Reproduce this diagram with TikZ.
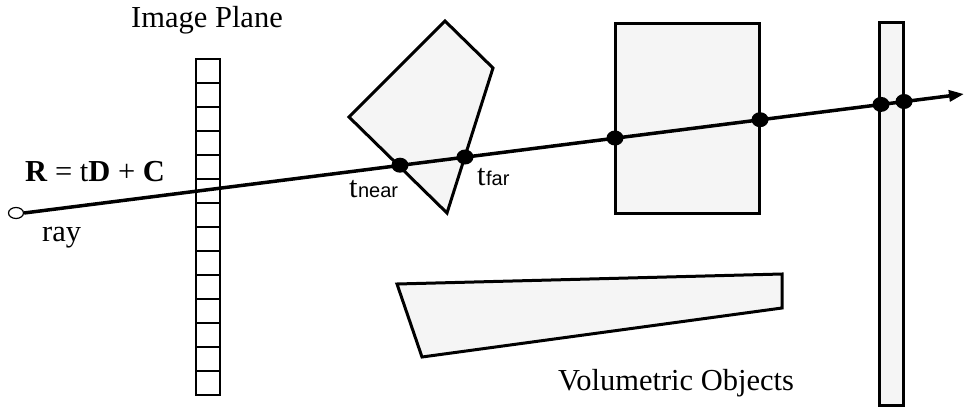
\documentclass[tikz,border=0pt]{standalone}
\usepackage{fontspec}
\setmainfont{Liberation Serif}
\newfontfamily\subsans{Liberation Sans}
\usetikzlibrary{arrows.meta,shapes.geometric}
\definecolor{objfill}{RGB}{245,245,245}
\begin{document}
\begin{tikzpicture}[x=1pt,y=-1pt,
  obj/.style={draw=black,fill=objfill,line width=3pt,line join=miter},
  planecell/.style={draw=black,line width=1.7pt},
  hit/.style={ellipse,fill=black,inner sep=0pt,minimum width=17pt,minimum height=15pt},
  lbl/.style={font=\fontsize{30.5}{34}\selectfont,inner sep=0pt,anchor=base west},
  sub/.style={font=\subsans\fontsize{20}{24}\selectfont,inner sep=0pt,anchor=base west}]
\useasboundingbox (0,0) rectangle (964,410);
% image plane
\draw[planecell] (196,59) rectangle (220,395);
\foreach \k in {1,...,13} { \draw[planecell] (195,{59+24*\k}) -- (220,{59+24*\k}); }
% objects
\draw[obj] (445,21) -- (493,68) -- (447,213) -- (349,117) -- cycle;
\draw[obj] (615,23) rectangle (759,213);
\draw[obj] (879,22) rectangle (903,405);
\draw[obj] (397,284) -- (782,274) -- (782,308) -- (422,357) -- cycle;
% ray
\node[ellipse,draw=black,line width=1.2pt,fill=white,inner sep=0pt,minimum width=15pt,minimum height=11pt] (orig) at (16,213) {};
\coordinate (tip) at (964,94);
\draw[line width=3.5pt,-{Triangle[length=15pt,width=11pt]}] (orig.east) -- (tip);
% hits
\node[hit] (h1) at (400,165.2) {};
\node[hit] (h2) at (465,157) {};
\node[hit] (h3) at (615,138) {};
\node[hit] (h4) at (760,119.7) {};
\node[hit] (h5) at (881,104.4) {};
\node[hit] (h6) at (904,101.5) {};
% labels
\node[lbl] (ip) at (131,27) {Image Plane};
\node[lbl] (eq) at (25,181) {\textbf{R} = t\textbf{D} + \textbf{C}};
\node[lbl] (ray) at (42,241) {ray};
\node[lbl] (tn) at (349,197) {t};
\node[sub] (tns) at (tn.base east) {near};
\node[lbl] (tf) at (477,185) {t};
\node[sub] (tfs) at (tf.base east) {far};
\node[lbl] (vo) at (558,390) {Volumetric Objects};
\end{tikzpicture}
\end{document}
